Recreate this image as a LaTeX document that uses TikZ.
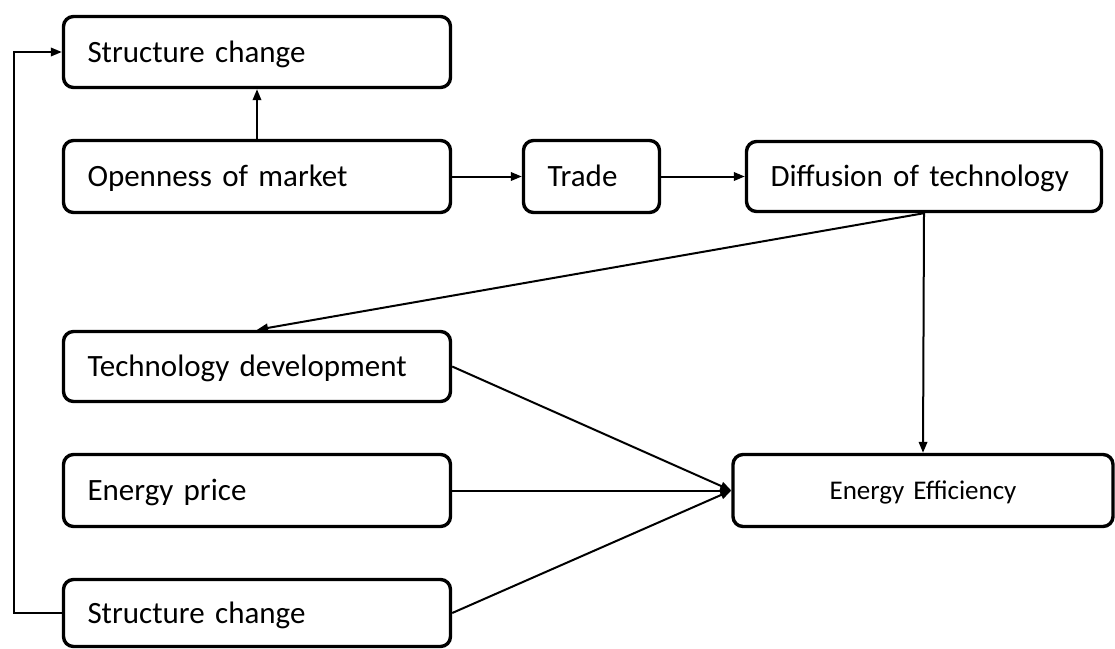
\documentclass[tikz,border=0pt]{standalone}
\usepackage{fontspec}
\setmainfont{Carlito}
\usetikzlibrary{arrows.meta}
\begin{document}
\begin{tikzpicture}[x=1pt,y=-1pt,
  box/.style={draw, line width=3.4pt, rounded corners=10pt, inner xsep=24pt, inner ysep=0pt,
    align=left, text height=20pt, text depth=0pt, font=\fontsize{31}{36}\selectfont},
  conn/.style={line width=2pt, -{Triangle[length=11pt,width=8.5pt]}}]
\useasboundingbox (0,0) rectangle (1115,648);
\node[box, text width=339pt, minimum height=71pt] (sc1) at (257,52) {Structure change};
\node[box, text width=339pt, minimum height=72pt] (om) at (257,176.5) {Openness of market};
\node[box, text width=88pt, minimum height=72pt] (trade) at (591.5,176.5) {Trade};
\node[box, text width=307pt, minimum height=70pt] (dif) at (924,176.5) {Diffusion of technology};
\node[box, text width=339pt, minimum height=70pt] (td) at (257,366.5) {Technology development};
\node[box, text width=339pt, minimum height=72pt] (ep) at (257,490.5) {Energy price};
\node[box, text width=339pt, minimum height=67pt] (sc2) at (257,613) {Structure change};
\node[box, text width=332pt, minimum height=72pt, align=center, text height=17pt, font=\fontsize{27}{32}\selectfont] (ee) at (923,490.5) {Energy Efficiency};
\coordinate (fb1) at (14,613);
\coordinate (fb2) at (14,52);
\draw[conn] (sc2.west) -- (fb1) -- (fb2) -- (sc1.west);
\draw[conn] (om.north) -- (sc1.south);
\draw[conn] (om.east) -- (trade.west);
\draw[conn] (trade.east) -- (dif.west);
\draw[conn] (dif.south) -- (td.north);
\draw[conn] (dif.south) -- (ee.north);
\draw[conn] (td.east) -- (ee.west);
\draw[conn] (ep.east) -- (ee.west);
\draw[conn] (sc2.east) -- (ee.west);
\end{tikzpicture}
\end{document}
